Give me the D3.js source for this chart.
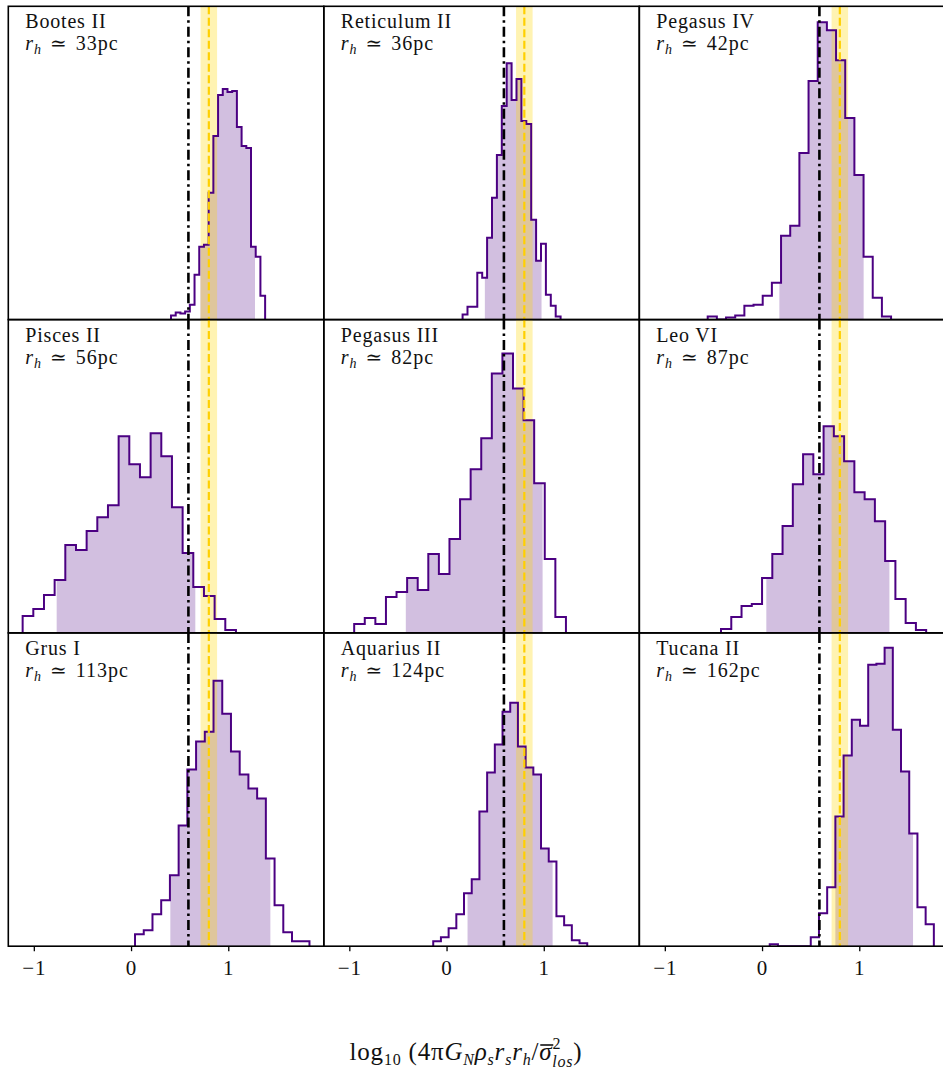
<!DOCTYPE html>
<html>
<head>
<meta charset="utf-8">
<script src="https://cdn.jsdelivr.net/npm/d3@7"></script>
<style>
  body { margin: 0; background: #fff; }
  svg text { font-family: "Liberation Serif", "DejaVu Serif", serif; fill: #111; }
</style>
</head>
<body>
<svg id="chart"></svg>
<script>
// galaxies in reading order (3 x 3 grid)
const galaxies = ["Bootes II", "Reticulum II", "Pegasus IV",
                  "Pisces II", "Pegasus III", "Leo VI",
                  "Grus I", "Aquarius II", "Tucana II"];
const halfLightRadii = [33, 36, 42, 56, 82, 87, 113, 124, 162];

// 20 equal bins per galaxy: first edge and bin width (log10 units)
const binStart = [0.411, 0.165, -0.559, -1.115, -0.950, -0.422, 0.041, -0.137, 0.079];
const binWidth = [0.0484, 0.0504, 0.0943, 0.1097, 0.1089, 0.1055, 0.0897, 0.0792, 0.0844];

const countsBootesII   = [4, 7, 6, 8, 15, 45, 73, 75, 127, 184, 225, 231, 228, 229, 193, 174, 172, 73, 63, 24];
const countsReticulumII = [5, 13, 13, 47, 42, 82, 122, 165, 214, 257, 220, 241, 199, 196, 100, 59, 76, 25, 14, 3];
const countsPegasusIV  = [3, 0, 2, 4, 14, 15, 24, 37, 84, 94, 167, 239, 298, 290, 260, 202, 145, 63, 22, 3];
const countsPiscesII   = [17, 24, 38, 53, 88, 83, 102, 116, 128, 197, 169, 156, 200, 177, 126, 80, 46, 37, 14, 3];
const countsPegasusIII = [9, 15, 9, 36, 41, 55, 43, 79, 59, 94, 134, 164, 195, 260, 280, 245, 213, 150, 74, 16];
const countsLeoVI      = [4, 16, 27, 29, 55, 79, 107, 149, 179, 159, 207, 197, 172, 141, 134, 112, 72, 34, 10, 3];
const countsGrusI      = [12, 16, 32, 46, 71, 121, 177, 205, 215, 266, 233, 195, 172, 158, 148, 88, 41, 14, 5, 5];
const countsAquariusII = [5, 9, 18, 32, 53, 67, 135, 174, 202, 235, 244, 200, 179, 172, 98, 85, 30, 21, 6, 3];
const countsTucanaII   = [2, 0, 0, 0, 0, 9, 33, 59, 130, 191, 227, 221, 282, 283, 299, 217, 175, 113, 39, 22];

// shaded credible interval of each posterior
const fillLow  = [0.713, 0.394, 0.178, -0.765, -0.419, 0.044, 0.404, 0.216, 0.754];
const fillHigh = [1.275, 0.977, 1.045, 0.661, 0.988, 1.310, 1.433, 1.091, 1.553];

const refLine = 0.59;
const bandMid = 0.80, bandLow = 0.715, bandHigh = 0.885;
const xTicks = [-1, 0, 1];

(() => {
    const width = 943, height = 1069;
    const pan = { left: 8.3, top: 6.3, w: 315.5, h: 313.3 };
    const serif = "'Liberation Serif', 'DejaVu Serif', serif";
    const allCounts = [countsBootesII, countsReticulumII, countsPegasusIV,
                       countsPiscesII, countsPegasusIII, countsLeoVI,
                       countsGrusI, countsAquariusII, countsTucanaII];

    const svg = d3.select("#chart").attr("width", width).attr("height", height);
    svg.append("rect").attr("width", width).attr("height", height).attr("fill", "#fff");

    // shared axes like matplotlib sharex/sharey (5% margin on x, 5% headroom on y)
    const lo = d3.min(binStart);
    const hi = d3.max(binStart.map((s, i) => s + binWidth[i] * allCounts[i].length));
    const pad = (hi - lo) * 0.05;
    const x = d3.scaleLinear().domain([lo - pad, hi + pad]).range([0, pan.w]);
    const y = d3.scaleLinear().domain([0, 1.05 * d3.max(allCounts.flat())]).range([pan.h, 0]);

    const purple = "#4b0082", gold = "#ffd000";

    galaxies.forEach((name, i) => {
        const col = i % 3, row = Math.floor(i / 3);
        const counts = allCounts[i];
        const edges = d3.range(counts.length + 1).map(k => binStart[i] + k * binWidth[i]);

        const g = svg.append("g")
            .attr("transform", `translate(${pan.left + col * pan.w},${pan.top + row * pan.h})`);

        g.append("clipPath").attr("id", `clip${i}`)
            .append("rect").attr("width", pan.w).attr("height", pan.h);
        const body = g.append("g").attr("clip-path", `url(#clip${i})`);

        // filled part between fillLow and fillHigh
        const fillPts = [[fillLow[i], counts[Math.floor((fillLow[i] - binStart[i]) / binWidth[i])]]];
        edges.forEach((e, k) => {
            if (e > fillLow[i] && e < fillHigh[i] && k < counts.length) fillPts.push([e, counts[k]]);
        });
        fillPts.push([fillHigh[i], fillPts[fillPts.length - 1][1]]);

        body.append("path")
            .datum(fillPts)
            .attr("fill", purple)
            .attr("fill-opacity", 0.25)
            .attr("d", d3.area().x(d => x(d[0])).y0(y(0)).y1(d => y(d[1])).curve(d3.curveStepAfter));

        // band for the reference value
        body.append("rect")
            .attr("x", x(bandLow)).attr("width", x(bandHigh) - x(bandLow))
            .attr("y", 0).attr("height", pan.h)
            .attr("fill", "#ffd700").attr("fill-opacity", 0.3);

        // step outline
        const stepPts = [[edges[0], 0]];
        counts.forEach((c, k) => stepPts.push([edges[k], c]));
        stepPts.push([edges[counts.length], counts[counts.length - 1]]);
        stepPts.push([edges[counts.length], 0]);

        body.append("path")
            .datum(stepPts)
            .attr("fill", "none")
            .attr("stroke", purple)
            .attr("stroke-width", 2)
            .attr("d", d3.line().x(d => x(d[0])).y(d => y(d[1])).curve(d3.curveStepAfter));

        body.append("line")
            .attr("x1", x(refLine)).attr("x2", x(refLine))
            .attr("y1", 0).attr("y2", pan.h)
            .attr("stroke", "#000").attr("stroke-width", 2.6)
            .attr("stroke-dasharray", "10,4,2.5,4");

        body.append("line")
            .attr("x1", x(bandMid)).attr("x2", x(bandMid))
            .attr("y1", 0).attr("y2", pan.h)
            .attr("stroke", gold).attr("stroke-width", 2.2)
            .attr("stroke-dasharray", "8,3.5");

        // labels
        g.append("text").attr("x", 17).attr("y", 22)
            .style("font-size", "20px").style("letter-spacing", "0.8px").text(name);

        const sub = g.append("text").attr("x", 17).attr("y", 44)
            .style("font-size", "20px").style("letter-spacing", "1px");
        sub.append("tspan").style("font-style", "italic").text("r");
        sub.append("tspan").style("font-style", "italic").style("font-size", "14px").attr("dy", 4).text("h");
        sub.append("tspan").attr("dy", -4).attr("dx", 8).text("\u2243");
        sub.append("tspan").attr("dx", 8).text(`${halfLightRadii[i]}pc`);

        g.append("rect")
            .attr("width", pan.w).attr("height", pan.h)
            .attr("fill", "none").attr("stroke", "#000").attr("stroke-width", 1.6);

        if (row === 2) {
            const ax = g.append("g")
                .attr("transform", `translate(0,${pan.h})`)
                .call(d3.axisBottom(x).tickValues(xTicks).tickSize(5).tickPadding(9)
                    .tickFormat(d => d < 0 ? "\u2212" + Math.abs(d) : d));
            ax.attr("font-size", 21).attr("font-family", serif);
            ax.select(".domain").remove();
            ax.selectAll("line").attr("stroke", "#000").attr("stroke-width", 1.3);
            ax.selectAll("text").attr("font-size", 21).style("font-size", "21px")
                .style("letter-spacing", "1px").attr("fill", "#111");
        }
    });

    // x label
    const lab = svg.append("text")
        .attr("x", 466).attr("y", 1060)
        .attr("text-anchor", "middle")
        .style("font-size", "25px").style("letter-spacing", "0.8px");
    const parts = [
        ["log", 0, null], ["10", 5, "sub"], [" (4\u03c0", -5, null],
        ["G", 0, "it"], ["N", 5, "subit"], ["\u03c1", -5, "it"], ["s", 5, "subit"],
        ["r", -5, "it"], ["s", 5, "subit"], ["r", -5, "it"], ["h", 5, "subit"],
        ["/", -5, null], ["\u03c3", 0, "it"], ["2", -11, "sub"], ["los", 18, "subit"], [")", -7, null]
    ];
    let sigma = null;
    parts.forEach(([t, dy, kind]) => {
        const ts = lab.append("tspan").attr("dy", dy).text(t);
        if (kind === "it" || kind === "subit") ts.style("font-style", "italic");
        if (kind === "sub" || kind === "subit") ts.style("font-size", "16px");
        if (t === "los") ts.attr("dx", -9);
        if (t === "\u03c3") sigma = ts;
    });
    // overline on sigma
    const bb = sigma.node().getBBox();
    svg.append("line")
        .attr("x1", bb.x + 1).attr("x2", bb.x + bb.width)
        .attr("y1", 1060 - 15).attr("y2", 1060 - 15)
        .attr("stroke", "#111").attr("stroke-width", 1.6);
})();
</script>
</body>
</html>
